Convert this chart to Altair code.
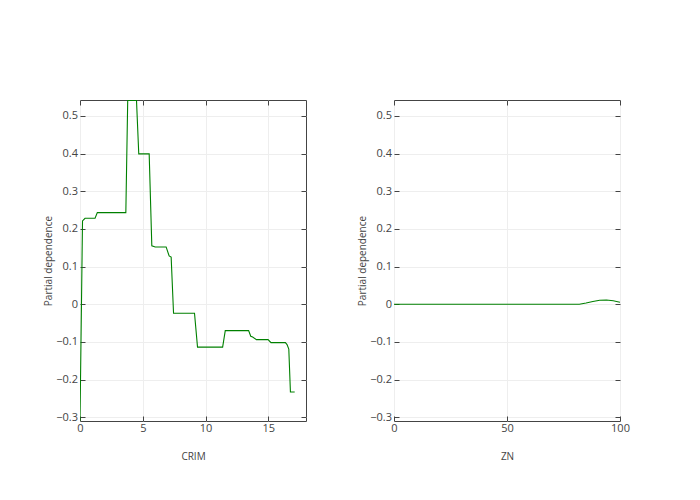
import altair as alt
import pandas as pd

# ---- data ----
crim_x = [0.0, 0.2, 0.4, 1.2, 1.38, 3.65, 3.8, 4.5, 4.68, 5.51, 5.72, 5.99, 6.86,
          7.1, 7.26, 7.45, 9.12, 9.36, 11.36, 11.57, 13.43, 13.6, 13.75, 14.05,
          14.98, 15.21, 16.36, 16.49, 16.63, 16.76, 17.1]
crim_y = [-0.309, 0.221, 0.228, 0.228, 0.243, 0.243, 0.541, 0.541, 0.399, 0.399,
          0.155, 0.152, 0.152, 0.128, 0.125, -0.024, -0.024, -0.114, -0.114,
          -0.070, -0.070, -0.085, -0.087, -0.094, -0.094, -0.102, -0.102,
          -0.107, -0.119, -0.233, -0.233]

zn_x = [0, 82, 85, 88, 91, 94, 97, 100]
zn_y = [0.0, 0.0, 0.003, 0.007, 0.0105, 0.011, 0.009, 0.005]

y_ticks = [-0.3, -0.2, -0.1, 0, 0.1, 0.2, 0.3, 0.4, 0.5]
crim_ticks = [0, 5, 10, 15]
zn_ticks = [0, 50, 100]

Y_DOMAIN = [-0.31, 0.542]
LINE_COLOR = "#008000"
AX = "#444444"
FONT = "Open Sans"


def panel(xs, ys, xtitle, xdomain, xticks):
    df = pd.DataFrame({"x": xs, "y": ys})
    xscale = alt.Scale(domain=xdomain, nice=False, zero=False)
    yscale = alt.Scale(domain=Y_DOMAIN, nice=False, zero=False)
    main = alt.Chart(df).mark_line(color=LINE_COLOR, strokeWidth=1.1, clip=True).encode(
        x=alt.X("x:Q", scale=xscale,
                axis=alt.Axis(title=xtitle, orient="bottom", values=xticks,
                              offset=-5, tickSize=5, tickColor=AX, domain=False,
                              grid=True, gridColor="#eeeeee", labelPadding=1,
                              labelColor=AX, labelFontSize=11, labelFont=FONT,
                              titleFont=FONT, titleFontSize=10, titleColor=AX,
                              titleFontWeight="normal", titlePadding=18,
                              labelFlush=False)),
        y=alt.Y("y:Q", scale=yscale,
                axis=alt.Axis(title="Partial dependence", orient="left", values=y_ticks,
                              format=".1~f", offset=-5, tickSize=5, tickColor=AX,
                              domain=False, grid=True, gridColor="#eeeeee",
                              labelPadding=2.5, labelColor=AX, labelFontSize=11,
                              labelFont=FONT, titleFont=FONT, titleFontSize=10,
                              titleColor=AX, titleFontWeight="normal", titlePadding=2,
                              labelFlush=False)),
    )
    mirror = alt.Chart(df).mark_line(strokeOpacity=0).encode(
        x=alt.X("x:Q", scale=xscale,
                axis=alt.Axis(title=None, orient="top", values=xticks, offset=-5,
                              tickSize=5, tickColor=AX, domain=False, grid=False,
                              labels=False)),
        y=alt.Y("y:Q", scale=yscale,
                axis=alt.Axis(title=None, orient="right", values=y_ticks, offset=-5,
                              tickSize=5, tickColor=AX, domain=False, grid=False,
                              labels=False)),
    )
    return alt.layer(main, mirror).resolve_axis(x="independent", y="independent").properties(
        width=226, height=321)


left = panel(crim_x, crim_y, "CRIM", [0, 18.0], crim_ticks)
right = panel(zn_x, zn_y, "ZN", [0, 100], zn_ticks)

chart = alt.hconcat(left, right, spacing=88, bounds="flush").properties(
    padding={"left": 35, "top": 91, "right": 10, "bottom": 10}
).configure_view(stroke=AX, strokeWidth=1)

chart.save("out.html", embed_options={"renderer": "svg", "actions": False})
